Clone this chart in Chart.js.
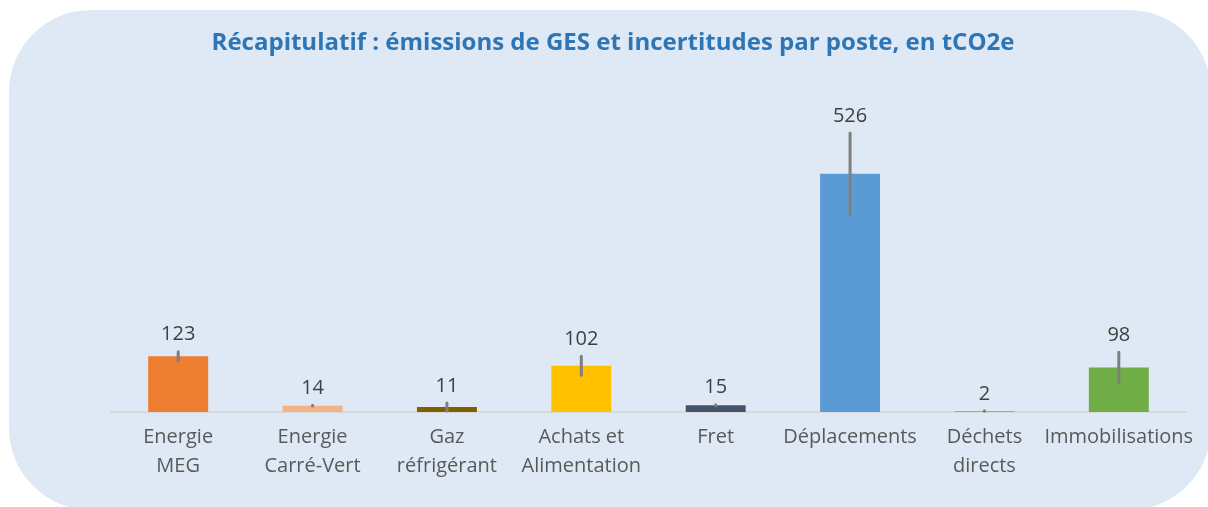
<!DOCTYPE html>
<html>
<head>
<meta charset="utf-8">
<script src="https://cdn.jsdelivr.net/npm/chart.js@4/dist/chart.umd.min.js"></script>
<style>
  html, body { margin: 0; padding: 0; background: #ffffff; }
  #wrap { position: relative; width: 1208px; height: 507px; }
  canvas { display: block; }
</style>
</head>
<body>
<div id="wrap"><canvas id="c" width="1208" height="507"></canvas></div>
<script>
const titleText = "Récapitulatif : émissions de GES et incertitudes par poste, en tCO2e";
const categories = [
  ["Energie", "MEG"],
  ["Energie", "Carré-Vert"],
  ["Gaz", "réfrigérant"],
  ["Achats et", "Alimentation"],
  ["Fret"],
  ["Déplacements"],
  ["Déchets", "directs"],
  ["Immobilisations"]
];
const emissions = [123, 14, 11, 102, 15, 526, 2, 98];
const uncertainty = [10, 1, 9, 21, 1, 90, 0.5, 34];
const barColors = ["#ed7d31", "#f4b183", "#7f6000", "#ffc000", "#44546a", "#5b9bd5", "#a5a5a5", "#70ad47"];

const FONT = "'Open Sans', 'DejaVu Sans', sans-serif";

const backgroundPlugin = {
  id: 'bgRound',
  beforeDraw(chart) {
    const ctx = chart.ctx;
    ctx.save();
    ctx.fillStyle = '#dee9f5';
    ctx.beginPath();
    ctx.roundRect(9, 10, 1202, 500, 82);
    ctx.fill();
    ctx.fillStyle = '#2e75b6';
    ctx.font = "bold 24px " + FONT;
    ctx.textAlign = 'center';
    ctx.textBaseline = 'middle';
    ctx.fillText(titleText, 613, 43);
    ctx.restore();
  }
};

const errorBarPlugin = {
  id: 'errBars',
  afterDatasetsDraw(chart) {
    const ctx = chart.ctx;
    const meta = chart.getDatasetMeta(0);
    const ys = chart.scales.y;
    ctx.save();
    meta.data.forEach((bar, i) => {
      const v = emissions[i];
      const e = uncertainty[i];
      const yTop = ys.getPixelForValue(v + e);
      const yBot = ys.getPixelForValue(v - e);
      ctx.strokeStyle = '#7f7f7f';
      ctx.lineWidth = 3;
      ctx.lineCap = 'round';
      ctx.beginPath();
      ctx.moveTo(bar.x, yTop);
      ctx.lineTo(bar.x, yBot);
      ctx.stroke();
      const top = Math.min(yTop, bar.y);
      ctx.fillStyle = '#404040';
      ctx.font = "20px " + FONT;
      ctx.textAlign = 'center';
      ctx.textBaseline = 'middle';
      ctx.fillText(String(v), bar.x, top - 17);
    });
    ctx.restore();
  }
};

new Chart(document.getElementById('c'), {
  type: 'bar',
  data: {
    labels: categories,
    datasets: [{
      data: emissions,
      backgroundColor: barColors,
      borderWidth: 0,
      barPercentage: 0.446,
      categoryPercentage: 1.0
    }]
  },
  options: {
    responsive: false,
    animation: false,
    devicePixelRatio: 1,
    layout: { padding: { top: 95, left: 111, right: 22, bottom: 0 } },
    plugins: {
      legend: { display: false },
      tooltip: { enabled: false },
      title: { display: false }
    },
    scales: {
      x: {
        grid: { display: false, drawTicks: false },
        border: { display: true, color: '#d9d9d9', width: 2 },
        ticks: {
          color: '#595959',
          font: { family: FONT, size: 20, lineHeight: 1.45 },
          padding: 11,
          maxRotation: 0,
          autoSkip: false
        },
        afterFit(scale) { scale.height = 95; }
      },
      y: {
        display: false,
        min: 0,
        max: 700
      }
    }
  },
  plugins: [backgroundPlugin, errorBarPlugin]
});
</script>
</body>
</html>
